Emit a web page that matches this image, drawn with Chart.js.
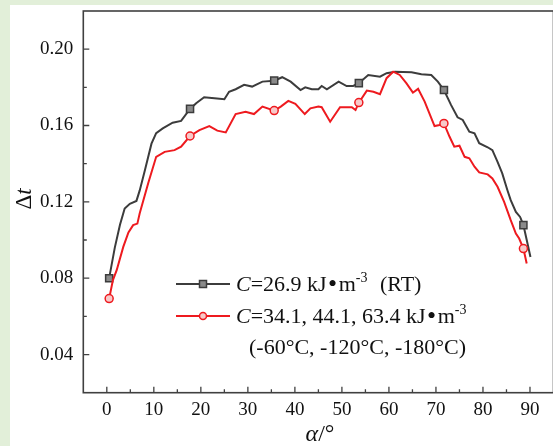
<!DOCTYPE html>
<html><head><meta charset="utf-8">
<script src="https://cdn.jsdelivr.net/npm/chart.js@4.4.1/dist/chart.umd.min.js"></script>
<style>
html,body{margin:0;padding:0;overflow:hidden;background:#fff;width:553px;height:446px}
canvas{display:block}
</style></head><body>
<canvas id="c" width="560" height="446" style="width:560px;height:446px"></canvas>
<script>
// ---- data ----
const angleBlack = [0.5,1.7,2.8,3.8,4.9,6.3,7.0,8.1,9.5,10.5,11.9,14.0,15.8,17.7,19.0,20.7,22.9,25.0,26.0,27.4,29.2,30.9,33.1,35.6,37.3,39.1,41.2,42.2,43.6,45.0,45.7,46.8,49.3,51.0,52.4,53.6,55.6,58.1,59.5,61.3,64.8,66.9,69.0,70.4,71.7,73.2,74.6,75.7,77.1,78.2,79.2,81.0,82.0,83.1,84.1,85.2,85.9,87.0,87.9,88.6,89.4,90.1];
const dtBlack    = [0.080,0.096,0.108,0.1165,0.119,0.1205,0.126,0.1366,0.1505,0.156,0.1585,0.1615,0.1624,0.1687,0.1717,0.1748,0.1743,0.1738,0.1777,0.179,0.1813,0.1804,0.183,0.1835,0.1853,0.183,0.1786,0.180,0.179,0.179,0.1807,0.179,0.183,0.1807,0.1807,0.1822,0.1865,0.1856,0.1874,0.1882,0.1879,0.1869,0.1865,0.183,0.1786,0.1708,0.1643,0.1629,0.1568,0.1559,0.1507,0.1486,0.1471,0.141,0.1349,0.1261,0.1209,0.1147,0.1121,0.1078,0.099,0.0911];
const angleRed   = [0.5,1.3,2.1,3.5,4.6,5.6,6.5,7.0,8.8,10.5,12.3,14.4,15.8,17.7,19.7,21.8,23.5,25.3,27.4,29.5,31.3,33.1,35.6,37.0,38.6,40.1,42.1,43.3,45.0,45.7,47.5,49.6,52.1,52.9,53.6,55.3,56.7,58.1,59.5,60.9,62.3,63.7,65.1,66.2,67.6,69.7,70.8,71.7,72.9,73.9,75.0,76.1,77.1,78.2,79.2,81.0,82.0,83.1,84.5,85.9,87.0,87.7,88.6,89.3];
const dtRed      = [0.0693,0.079,0.0842,0.0964,0.104,0.1078,0.1086,0.114,0.1297,0.1436,0.1462,0.1471,0.1489,0.1545,0.1576,0.1597,0.1573,0.1564,0.166,0.1672,0.166,0.1699,0.1678,0.1699,0.1729,0.1713,0.166,0.169,0.1699,0.1696,0.162,0.1696,0.1696,0.1681,0.172,0.1783,0.1777,0.1764,0.1848,0.1882,0.1865,0.1822,0.1772,0.1792,0.1725,0.1597,0.1603,0.1611,0.1541,0.1489,0.1494,0.1436,0.1428,0.1384,0.1354,0.1344,0.1323,0.1279,0.120,0.1104,0.1034,0.1008,0.0955,0.0877];
const markerAngles = [0.5,17.7,35.6,53.6,71.7,88.6];
const xTickValues  = [0,10,20,30,40,50,60,70,80,90];
const xMinorTicks  = [5,15,25,35,45,55,65,75,85];
const yTickValues  = [0.04,0.08,0.12,0.16,0.20];
const yMinorTicks  = [0.06,0.10,0.14,0.18];
const legendBlack  = [{t:'C',i:true},{t:'=26.9 kJ'},{t:'\u2022',box:12},{t:'m'},{t:'-3',sup:true}];
const legendBlackTail = '(RT)';
const legendRed    = [{t:'C',i:true},{t:'=34.1, 44.1, 63.4 kJ'},{t:'\u2022',box:12},{t:'m'},{t:'-3',sup:true}];
const legendRed2   = '(-60\u00B0C, -120\u00B0C, -180\u00B0C)';

const SERIF = '"Liberation Serif","Times New Roman",serif';
const BLACK = '#3c3c3c', RED = '#ee1a1f';

function runs(ctx, x, y, list, size){
  for (const r of list){
    if (r.sup){
      ctx.font = `${Math.round(size*0.62)}px ${SERIF}`;
      ctx.fillText(r.t, x, y - size*0.42);
      x += ctx.measureText(r.t).width;
    } else if (r.box){
      ctx.font = `${Math.round(size*1.2)}px ${SERIF}`;
      const w = ctx.measureText(r.t).width;
      ctx.fillText(r.t, x + (r.box - w)/2, y + size*0.05);
      x += r.box;
    } else {
      ctx.font = `${r.i?'italic ':''}${size}px ${SERIF}`;
      ctx.fillText(r.t, x, y);
      x += ctx.measureText(r.t).width;
    }
  }
  return x;
}

const decor = {
  id:'decor',
  beforeDraw(chart){
    const ctx = chart.ctx;
    ctx.save();
    ctx.fillStyle = '#e2efd9';
    ctx.fillRect(0,0,chart.width,chart.height);
    ctx.fillStyle = '#ffffff';
    ctx.fillRect(10,5,chart.width-10,chart.height-5);
    ctx.restore();
  },
  afterDraw(chart){
    const ctx = chart.ctx, a = chart.chartArea;
    const xs = chart.scales.x, ys = chart.scales.y;
    ctx.save();
    // frame
    ctx.strokeStyle = '#404040'; ctx.lineWidth = 1.6;
    ctx.strokeRect(a.left, a.top, a.right-a.left, a.bottom-a.top);
    // inward ticks
    ctx.lineWidth = 1.3;
    ctx.beginPath();
    for (const v of xTickValues){ const p = xs.getPixelForValue(v); ctx.moveTo(p,a.bottom); ctx.lineTo(p,a.bottom-6); }
    for (const v of xMinorTicks){ const p = xs.getPixelForValue(v); ctx.moveTo(p,a.bottom); ctx.lineTo(p,a.bottom-3.5); }
    for (const v of yTickValues){ const p = ys.getPixelForValue(v); ctx.moveTo(a.left,p); ctx.lineTo(a.left+6,p); }
    for (const v of yMinorTicks){ const p = ys.getPixelForValue(v); ctx.moveTo(a.left,p); ctx.lineTo(a.left+3.5,p); }
    ctx.stroke();

    ctx.fillStyle = '#111';
    ctx.textBaseline = 'alphabetic';
    ctx.textAlign = 'left';
    // x title
    ctx.font = `italic 24px ${SERIF}`;
    const wA = ctx.measureText('\u03B1').width;
    ctx.font = `24px ${SERIF}`;
    const wB = ctx.measureText('/\u00B0').width;
    let x0 = 320 - (wA+wB)/2;
    ctx.font = `italic 24px ${SERIF}`; ctx.fillText('\u03B1', x0, 441);
    ctx.font = `24px ${SERIF}`; ctx.fillText('/\u00B0', x0+wA, 441);
    // y title
    ctx.save();
    ctx.translate(31, 199);
    ctx.rotate(-Math.PI/2);
    ctx.font = `23px ${SERIF}`; const wD = ctx.measureText('\u0394').width;
    ctx.font = `italic 23px ${SERIF}`; const wT = ctx.measureText('t').width;
    const s0 = -(wD+wT)/2;
    ctx.font = `23px ${SERIF}`; ctx.fillText('\u0394', s0, 0);
    ctx.font = `italic 23px ${SERIF}`; ctx.fillText('t', s0+wD, 0);
    ctx.restore();

    // legend
    const rowsY = [284, 316];
    const cols = [BLACK, RED];
    for (let k=0;k<2;k++){
      ctx.strokeStyle = cols[k]; ctx.lineWidth = 2;
      ctx.beginPath(); ctx.moveTo(176, rowsY[k]); ctx.lineTo(230, rowsY[k]); ctx.stroke();
      ctx.lineWidth = 1.5;
      if (k===0){
        ctx.fillStyle = '#8a8a8a';
        ctx.fillRect(199.5, rowsY[k]-3.5, 7, 7);
        ctx.strokeRect(199.5, rowsY[k]-3.5, 7, 7);
      } else {
        ctx.fillStyle = '#f7c9c9';
        ctx.beginPath(); ctx.arc(203, rowsY[k], 3.5, 0, Math.PI*2); ctx.fill(); ctx.stroke();
      }
    }
    ctx.fillStyle = '#111';
    runs(ctx, 236, 291, legendBlack, 22);
    ctx.font = `22px ${SERIF}`; ctx.fillText(legendBlackTail, 380, 291);
    runs(ctx, 236, 323, legendRed, 22);
    ctx.font = `22px ${SERIF}`; ctx.fillText(legendRed2, 249, 354);
    ctx.restore();
  }
};

const mk = (xs, ys) => xs.map((x,i)=>({x, y: ys[i]}));
new Chart(document.getElementById('c'), {
  type:'line',
  data:{ datasets:[
    { label:'C=34.1, 44.1, 63.4 kJ•m-3', data: mk(angleRed, dtRed), order:0,
      borderColor:RED, borderWidth:2, tension:0,
      pointStyle:'circle', pointRadius: c => markerAngles.includes(c.raw && c.raw.x) ? 4 : 0,
      pointBackgroundColor:'#f7c9c9', pointBorderColor:RED, pointBorderWidth:1.5 },
    { label:'C=26.9 kJ•m-3 (RT)', data: mk(angleBlack, dtBlack), order:1,
      borderColor:BLACK, borderWidth:2, tension:0,
      pointStyle:'rect', pointRadius: c => markerAngles.includes(c.raw && c.raw.x) ? 5 : 0,
      pointBackgroundColor:'#8a8a8a', pointBorderColor:BLACK, pointBorderWidth:1.5 }
  ]},
  options:{
    responsive:false, animation:false, devicePixelRatio:1,
    layout:{ padding:{ left:0, top:11, right:3.6, bottom:0 } },
    plugins:{ legend:{display:false}, tooltip:{enabled:false} },
    scales:{
      x:{ type:'linear', min:-5, max:95,
          afterBuildTicks: s => { s.ticks = xTickValues.map(v=>({value:v})); },
          afterFit: s => { s.height = 53.3; s.paddingLeft = 0; s.paddingRight = 0; },
          grid:{ display:false, drawTicks:false }, border:{ display:false },
          ticks:{ font:{ family:SERIF, size:19 }, color:'#111', padding:6, maxRotation:0, autoSkip:false,
                  callback: v => String(v) } },
      y:{ type:'linear', min:0.02, max:0.22,
          afterBuildTicks: s => { s.ticks = yTickValues.map(v=>({value:v})); },
          afterFit: s => { s.width = 83.3; s.paddingTop = 0; s.paddingBottom = 0; },
          grid:{ display:false, drawTicks:false }, border:{ display:false },
          ticks:{ font:{ family:SERIF, size:19 }, color:'#111', padding:10,
                  callback: v => v.toFixed(2) } }
    }
  },
  plugins:[decor]
});
</script>
</body></html>
